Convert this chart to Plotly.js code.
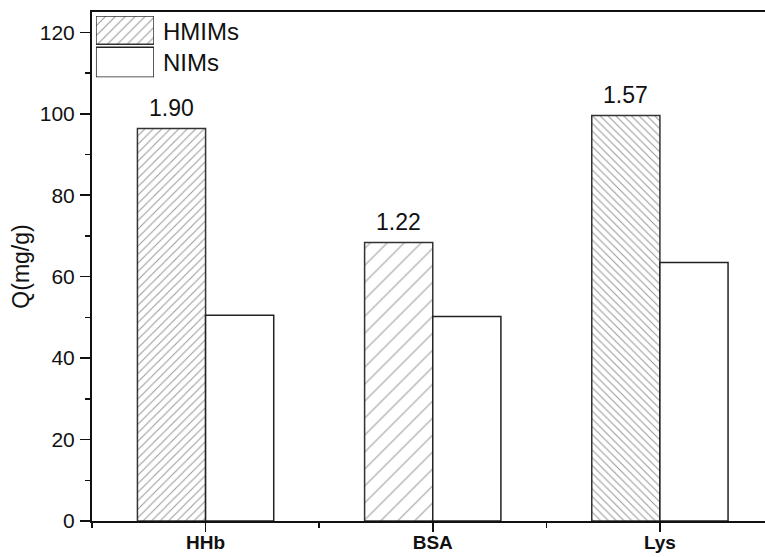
<!DOCTYPE html>
<html>
<head>
<meta charset="utf-8">
<script src="https://cdn.plot.ly/plotly-3.0.1.min.js"></script>
<style>html,body{margin:0;padding:0;background:#fff;}#chart{width:765px;height:557px;}</style>
</head>
<body>
<div id="chart"></div>
<script>
// ---- data ----
var categories = ['HHb', 'BSA', 'Lys'];
var seriesNames = ['HMIMs', 'NIMs'];
var hmimValues = [96.4, 68.4, 99.6];
var nimValues = [50.5, 50.2, 63.5];
var ratioLabels = ['1.90', '1.22', '1.57'];
var yTickVals = [0, 20, 40, 60, 80, 100, 120];

var xIdx = categories.map(function (_, i) { return i; });
var font = 'Liberation Sans, Arial, sans-serif';

var hatchShapes = ['/', '/', '\\'];
var hatchSizes = [6, 12, 5.5];
var hatchSolidity = [0.17, 0.085, 0.19];

var traces = [
  {
    type: 'bar', name: seriesNames[0], x: xIdx, y: hmimValues,
    marker: {
      color: '#ffffff',
      line: {color: '#333333', width: 1.5},
      pattern: {shape: hatchShapes, size: hatchSizes, solidity: hatchSolidity, fgcolor: '#333333', bgcolor: '#ffffff', fillmode: 'overlay'}
    },
    showlegend: false, hoverinfo: 'skip'
  },
  {
    type: 'bar', name: seriesNames[1], x: xIdx, y: nimValues,
    marker: {color: '#ffffff', line: {color: '#222222', width: 1.5}},
    showlegend: false, hoverinfo: 'skip'
  },
  // legend swatches drawn on a small overlay axis
  {
    type: 'bar', x: [0.5], y: [0.92], base: [1.08], width: [1], xaxis: 'x2', yaxis: 'y2', offsetgroup: 'leg',
    marker: {
      color: '#ffffff', line: {color: '#333333', width: 1.5},
      pattern: {shape: '/', size: 7, solidity: 0.15, fgcolor: '#333333', bgcolor: '#ffffff', fillmode: 'overlay'}
    },
    showlegend: false, hoverinfo: 'skip'
  },
  {
    type: 'bar', x: [0.5], y: [0.98], base: [0], width: [1], xaxis: 'x2', yaxis: 'y2', offsetgroup: 'leg',
    marker: {color: '#ffffff', line: {color: '#222222', width: 1.5}},
    showlegend: false, hoverinfo: 'skip'
  }
];

var annotations = ratioLabels.map(function (t, i) {
  return {
    x: i - 0.15, y: hmimValues[i], xref: 'x', yref: 'y', text: t, showarrow: false,
    yanchor: 'bottom', yshift: 5, font: {family: font, size: 23, color: '#111'}
  };
});
annotations.push(
  {x: 0.102, y: 0.9626, xref: 'paper', yref: 'paper', text: seriesNames[0], showarrow: false,
   xanchor: 'left', yanchor: 'middle', font: {family: font, size: 24, color: '#111'}},
  {x: 0.102, y: 0.9017, xref: 'paper', yref: 'paper', text: seriesNames[1], showarrow: false,
   xanchor: 'left', yanchor: 'middle', font: {family: font, size: 24, color: '#111'}}
);

var layout = {
  width: 765, height: 557,
  margin: {l: 92, r: 0, t: 12, b: 36, pad: 0},
  paper_bgcolor: '#ffffff', plot_bgcolor: '#ffffff',
  barmode: 'group', bargap: 0.4, bargroupgap: 0,
  font: {family: font, color: '#111'},
  xaxis: {
    range: [-0.5, 2.4626], tickmode: 'array', tickvals: xIdx, ticktext: categories,
    showgrid: false, zeroline: false,
    showline: true, linecolor: '#111', linewidth: 2, mirror: true,
    ticks: 'outside', ticklen: 9, tickwidth: 1.5, tickcolor: '#111',
    ticklabelstandoff: -6,
    tickfont: {family: font, size: 19, color: '#111', weight: 'bold'},
    minor: {tickmode: 'array', tickvals: [-0.5, 0.5, 1.5], ticks: 'outside', ticklen: 5, tickwidth: 1.5, tickcolor: '#111', showgrid: false}
  },
  yaxis: {
    range: [0, 125], tickmode: 'array', tickvals: yTickVals,
    showgrid: false, zeroline: false,
    showline: true, linecolor: '#111', linewidth: 2, mirror: false,
    ticks: 'outside', ticklen: 10, tickwidth: 1.5, tickcolor: '#111',
    ticklabelstandoff: 1,
    tickfont: {family: font, size: 21, color: '#111'},
    minor: {dtick: 10, tick0: 0, ticks: 'outside', ticklen: 5, tickwidth: 1.5, tickcolor: '#111', showgrid: false},
    title: {text: 'Q(mg/g)', font: {family: font, size: 23, color: '#111'}, standoff: 4}
  },
  xaxis2: {domain: [0.0059, 0.0921], range: [0, 1], visible: false, fixedrange: true, anchor: 'y2'},
  yaxis2: {domain: [0.8716, 0.9921], range: [0, 2], visible: false, fixedrange: true, anchor: 'x2'},
  annotations: annotations,
  showlegend: false
};

Plotly.newPlot('chart', traces, layout, {displayModeBar: false, staticPlot: true});
</script>
</body>
</html>
